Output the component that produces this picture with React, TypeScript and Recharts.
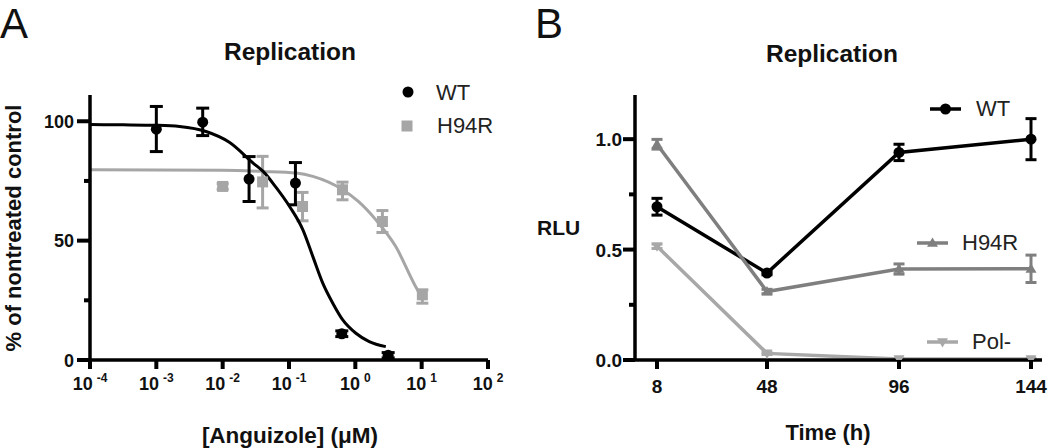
import React from 'react';
import { ComposedChart, Line, Scatter, XAxis, YAxis, ErrorBar } from 'recharts';

const FONT = '"Liberation Sans", Arial, Helvetica, sans-serif';
const INK = '#111';

// ---------- Panel A : dose response ----------
const logTicks = [0.0001, 0.001, 0.01, 0.1, 1, 10, 100];
const pctTicks = [0, 25, 50, 75, 100];

const wtConc = [0.001, 0.005, 0.025, 0.125, 0.625, 3.125];
const wtPct = [96.7, 99.6, 75.8, 74.1, 11.0, 2.0];
const wtPctErr: [number, number][] = [[9.4, 9.5], [5.6, 5.9], [9.4, 9.4], [9.1, 8.6], [1.2, 1.2], [1.1, 1.1]];

const h94rConc = [0.01, 0.04, 0.16, 0.64, 2.56, 10.24];
const h94rPct = [72.7, 74.6, 64.3, 71.3, 58.0, 27.3];
const h94rPctErr: [number, number][] = [[1.2, 1.2], [10.9, 10.7], [6.0, 5.9], [4.2, 3.2], [4.6, 4.6], [3.5, 2.1]];

// fitted curves
const wtFitConc = [0.0001, 0.000316, 0.001, 0.00224, 0.00562, 0.0126, 0.0288, 0.0407, 0.063, 0.102, 0.162, 0.229, 0.324, 0.457, 0.646, 1.02, 1.62, 2.88];
const wtFitPct = [98.6, 98.5, 98.3, 97.8, 95.7, 91.2, 82.5, 79.0, 72.5, 64.3, 54.5, 43.3, 32.1, 23.8, 16.8, 11.2, 7.7, 5.6];
const h94rFitConc = [0.0001, 0.01, 0.04, 0.129, 0.229, 0.646, 1.12, 2.04, 4.07, 8.13, 9.77];
const h94rFitPct = [79.7, 79.5, 79.0, 78.3, 76.9, 71.3, 66.3, 58.7, 47.5, 30.7, 27.0];

// ---------- Panel B : time course ----------
const timeH = [8, 48, 96, 144];
const timeTicks = [8, 48, 96, 144];
const rluTicks = [0, 0.25, 0.5, 0.75, 1.0];
const wtRlu = [0.694, 0.394, 0.94, 1.0];
const wtRluErr = [0.038, 0.008, 0.037, 0.093];
const h94rRlu = [0.977, 0.31, 0.412, 0.413];
const h94rRluErr = [0.022, 0.01, 0.023, 0.062];
const polRlu = [0.515, 0.03, 0.004, 0.004];
const polRluErr = [0.01, 0.005, 0.003, 0.003];

const seriesA = [
  { name: 'WT', color: '#000000' },
  { name: 'H94R', color: '#a6a6a6' },
];
const seriesB = [
  { name: 'WT', color: '#000000' },
  { name: 'H94R', color: '#7f7f7f' },
  { name: 'Pol-', color: '#a8a8a8' },
];

const zip = (xs: number[], ys: number[], errs?: any[]) =>
  xs.map((x, i) => ({ x, y: ys[i], err: errs ? errs[i] : undefined }));

const wtPoints = zip(wtConc, wtPct, wtPctErr);
const h94rPoints = zip(h94rConc, h94rPct, h94rPctErr);
const wtFit = zip(wtFitConc, wtFitPct);
const h94rFit = zip(h94rFitConc, h94rFitPct);

const wtB = zip(timeH, wtRlu, wtRluErr);
const h94rB = zip(timeH, h94rRlu, h94rRluErr);
const polB = zip(timeH, polRlu, polRluErr);

const AX = { stroke: '#000', strokeWidth: 3.5 };

const LogTick = (props: any) => {
  const { x, y, payload } = props;
  const exp = Math.round(Math.log10(payload.value));
  return (
    <g>
      <line x1={x} x2={x} y1={y} y2={y + 9} stroke="#000" strokeWidth={4} />
      <text x={x} y={y + 30} textAnchor="middle" fontFamily={FONT} fontWeight="bold" fontSize={18} fill={INK}>
        <tspan>10</tspan>
        <tspan dx={4} dy={-8} fontSize={12}>{exp < 0 ? '-' + Math.abs(exp) : String(exp)}</tspan>
      </text>
    </g>
  );
};

const PctTick = (props: any) => {
  const { x, y, payload } = props;
  const major = payload.value % 50 === 0;
  return (
    <g>
      <line x1={x} x2={x - (major ? 13 : 6)} y1={y} y2={y} stroke="#000" strokeWidth={4} />
      {major && (
        <text x={x - 16} y={y + 6.5} textAnchor="end" fontFamily={FONT} fontWeight="bold" fontSize={18} fill={INK}>
          {payload.value}
        </text>
      )}
    </g>
  );
};

const TimeTick = (props: any) => {
  const { x, y, payload } = props;
  return (
    <g>
      <line x1={x} x2={x} y1={y} y2={y + 9} stroke="#000" strokeWidth={4} />
      <text x={x} y={y + 33} textAnchor="middle" fontFamily={FONT} fontWeight="bold" fontSize={19} fill={INK}>
        {payload.value}
      </text>
    </g>
  );
};

const RluTick = (props: any) => {
  const { x, y, payload } = props;
  const v = payload.value;
  const major = Math.abs(v * 2 - Math.round(v * 2)) < 1e-6;
  return (
    <g>
      <line x1={x} x2={x - (major ? 12 : 6)} y1={y} y2={y} stroke="#000" strokeWidth={4} />
      {major && (
        <text x={x - 13} y={y + 7} textAnchor="end" fontFamily={FONT} fontWeight="bold" fontSize={19} fill={INK}>
          {v.toFixed(1)}
        </text>
      )}
    </g>
  );
};

const circleShape = (r: number, fill: string) => (p: any) =>
  p.cx == null ? <g /> : <circle cx={p.cx} cy={p.cy} r={r} fill={fill} />;
const squareShape = (s: number, fill: string) => (p: any) =>
  p.cx == null ? <g /> : <rect x={p.cx - s / 2} y={p.cy - s / 2} width={s} height={s} fill={fill} />;

const triPts = (cx: number, cy: number, s: number, up: boolean) => {
  const d = up ? 1 : -1;
  return `${cx},${cy - d * s} ${cx + s},${cy + d * s * 0.7} ${cx - s},${cy + d * s * 0.7}`;
};

const circleDot = (r: number, fill: string) => (p: any) =>
  <circle key={`c${p.index}`} cx={p.cx} cy={p.cy} r={r} fill={fill} />;
const triDot = (s: number, fill: string, up: boolean) => (p: any) =>
  <polygon key={`t${p.index}`} points={triPts(p.cx, p.cy, s, up)} fill={fill} />;

const Overlay = () => (
  <svg width={1050} height={448} style={{ position: 'absolute', left: 0, top: 0, pointerEvents: 'none' }}>
    <g fontFamily={FONT} fill={INK}>
      <text x={0} y={38} fontSize={42}>A</text>
      <text x={535} y={38} fontSize={42}>B</text>
      <text x={290} y={60} fontSize={24.5} fontWeight="bold" textAnchor="middle">Replication</text>
      <text x={832} y={62} fontSize={24.5} fontWeight="bold" textAnchor="middle">Replication</text>
      <text transform="translate(21,228) rotate(-90)" fontSize={22} fontWeight="bold" textAnchor="middle">% of nontreated control</text>
      <text x={290} y={443} fontSize={22.5} fontWeight="bold" textAnchor="middle">[Anguizole] (μM)</text>
      <text x={537} y={235} fontSize={21} fontWeight="bold">RLU</text>
      <text x={828} y={440} fontSize={22} fontWeight="bold" textAnchor="middle">Time (h)</text>
    </g>
    {/* legend A */}
    <g fontFamily={FONT} fontSize={22} fill="#222">
      <circle cx={408} cy={92} r={5.5} fill={seriesA[0].color} />
      <text x={436} y={100}>{seriesA[0].name}</text>
      <rect x={401.5} y={120.5} width={11} height={11} fill={seriesA[1].color} />
      <text x={437} y={133}>{seriesA[1].name}</text>
    </g>
    {/* legend B */}
    <g fontFamily={FONT} fontSize={22} fill="#222">
      <line x1={930} x2={961} y1={109} y2={109} stroke={seriesB[0].color} strokeWidth={3.5} />
      <circle cx={945.5} cy={109} r={5.5} fill={seriesB[0].color} />
      <text x={976} y={116}>{seriesB[0].name}</text>
      <line x1={917} x2={948} y1={243} y2={243} stroke={seriesB[1].color} strokeWidth={3.5} />
      <polygon points={triPts(932.5, 243, 5.5, true)} fill={seriesB[1].color} />
      <text x={962} y={250}>{seriesB[1].name}</text>
      <line x1={927} x2={958} y1={342} y2={342} stroke={seriesB[2].color} strokeWidth={3.5} />
      <polygon points={triPts(942.5, 342, 5.5, false)} fill={seriesB[2].color} />
      <text x={972} y={349}>{seriesB[2].name}</text>
    </g>
  </svg>
);

export default function App() {
  return (
    <div style={{ position: 'absolute', left: 0, top: 0, width: 1050, height: 448, background: '#fff', overflow: 'hidden' }}>
      <div style={{ position: 'absolute', left: 0, top: 0 }}>
        <ComposedChart width={520} height={448} margin={{ top: 95, right: 32, bottom: 48, left: 30 }}>
          <XAxis
            type="number" dataKey="x" scale="log" domain={[0.0001, 100]} ticks={logTicks}
            allowDataOverflow interval={0} height={40} axisLine={AX} tickLine={false}
            tickSize={0} tickMargin={0} tick={<LogTick />}
          />
          <YAxis
            type="number" dataKey="y" domain={[0, 111]} ticks={pctTicks} allowDataOverflow
            interval={0} width={60} axisLine={AX} tickLine={false} tickSize={0} tickMargin={0}
            tick={<PctTick />}
          />
          <Scatter data={h94rPoints} dataKey="y" fill={seriesA[1].color} shape={squareShape(11, seriesA[1].color)} isAnimationActive={false}>
            <ErrorBar dataKey="err" direction="y" width={6} strokeWidth={3} stroke={seriesA[1].color} />
          </Scatter>
          <Line data={h94rFit} dataKey="y" type="monotone" stroke={seriesA[1].color} strokeWidth={3} dot={false} activeDot={false} isAnimationActive={false} />
          <Scatter data={wtPoints} dataKey="y" fill={seriesA[0].color} shape={circleShape(5.5, seriesA[0].color)} isAnimationActive={false}>
            <ErrorBar dataKey="err" direction="y" width={6.5} strokeWidth={3} stroke={seriesA[0].color} />
          </Scatter>
          <Line data={wtFit} dataKey="y" type="monotone" stroke={seriesA[0].color} strokeWidth={3} dot={false} activeDot={false} isAnimationActive={false} />
        </ComposedChart>
      </div>
      <div style={{ position: 'absolute', left: 520, top: 0 }}>
        <ComposedChart width={530} height={448} margin={{ top: 95, right: 8, bottom: 48, left: 55 }}>
          <XAxis
            type="number" dataKey="x" domain={[0, 148]} ticks={timeTicks} allowDataOverflow
            interval={0} height={40} axisLine={AX} tickLine={false} tickSize={0} tickMargin={0}
            tick={<TimeTick />}
          />
          <YAxis
            type="number" dataKey="y" domain={[0, 1.2]} ticks={rluTicks} allowDataOverflow
            interval={0} width={60} axisLine={AX} tickLine={false} tickSize={0} tickMargin={0}
            tick={<RluTick />}
          />
          <Line data={wtB} dataKey="y" type="linear" stroke={seriesB[0].color} strokeWidth={3.5} dot={circleDot(5.5, seriesB[0].color)} activeDot={false} isAnimationActive={false}>
            <ErrorBar dataKey="err" direction="y" width={5.5} strokeWidth={3} stroke={seriesB[0].color} />
          </Line>
          <Line data={h94rB} dataKey="y" type="linear" stroke={seriesB[1].color} strokeWidth={3.5} dot={triDot(5.5, seriesB[1].color, true)} activeDot={false} isAnimationActive={false}>
            <ErrorBar dataKey="err" direction="y" width={5.5} strokeWidth={3} stroke={seriesB[1].color} />
          </Line>
          <Line data={polB} dataKey="y" type="linear" stroke={seriesB[2].color} strokeWidth={3.5} dot={triDot(5.5, seriesB[2].color, false)} activeDot={false} isAnimationActive={false}>
            <ErrorBar dataKey="err" direction="y" width={5.5} strokeWidth={3} stroke={seriesB[2].color} />
          </Line>
        </ComposedChart>
      </div>
      <Overlay />
    </div>
  );
}
